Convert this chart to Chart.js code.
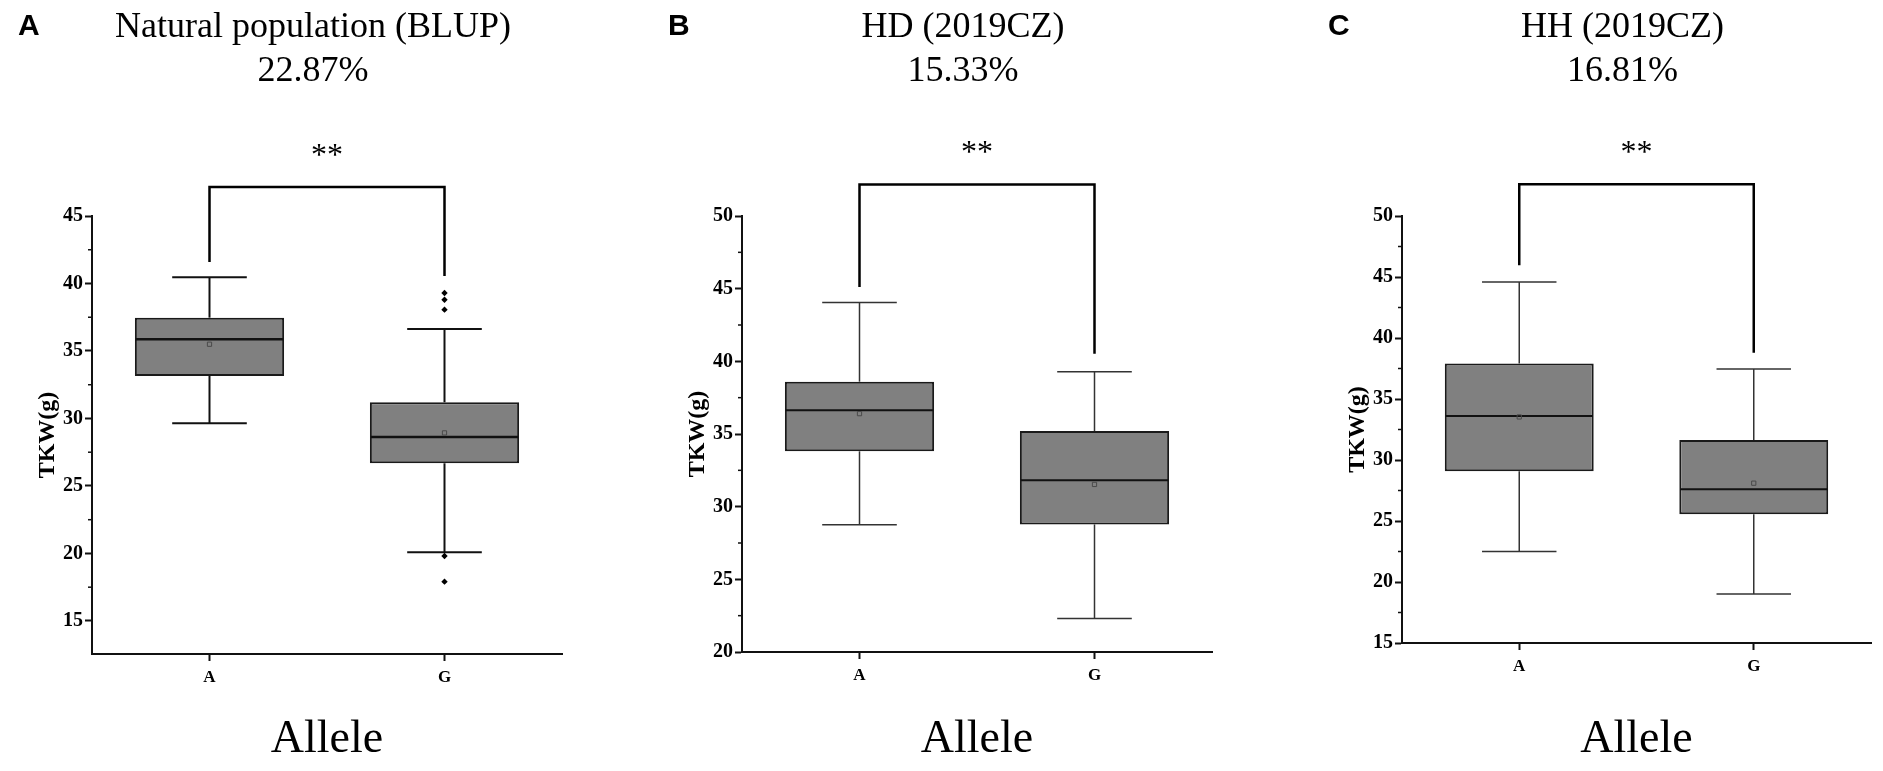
<!DOCTYPE html>
<html>
<head>
<meta charset="utf-8">
<script src="https://cdn.jsdelivr.net/npm/chart.js@4.4.1/dist/chart.umd.min.js"></script>
<style>
html, body { margin: 0; padding: 0; background: #fff; }
#wrap { position: relative; width: 1883px; height: 771px; overflow: hidden; }
canvas { position: absolute; top: 0; }
</style>
</head>
<body>
<div id="wrap">
  <canvas id="chartA" width="620" height="771" style="left:0px"></canvas>
  <canvas id="chartB" width="620" height="771" style="left:640px"></canvas>
  <canvas id="chartC" width="623" height="771" style="left:1260px"></canvas>
</div>
<script>
var alleles = ["A", "G"];

// A - natural population (BLUP)
var blupQ1 = [33.15, 26.68];
var blupQ3 = [37.47, 31.2];
var blupMedian = [35.87, 28.63];
var blupMean = [35.5, 28.93];
var blupLow = [29.64, 20.09];
var blupHigh = [40.46, 36.63];
var blupOutlierAllele = ["G", "G", "G", "G", "G"];
var blupOutlierValue = [39.3, 38.8, 38.06, 19.81, 17.91];
var blupBracket = [41.6, 47.15, 40.56]; // left foot, top, right foot

// B - HD (2019CZ)
var hdQ1 = [33.81, 28.78];
var hdQ3 = [38.6, 35.2];
var hdMedian = [36.63, 31.81];
var hdMean = [36.4, 31.53];
var hdLow = [28.76, 22.31];
var hdHigh = [44.04, 39.29];
var hdBracket = [45.11, 52.17, 40.53];

// C - HH (2019CZ)
var hhQ1 = [29.08, 25.56];
var hhQ3 = [37.92, 31.64];
var hhMedian = [33.61, 27.61];
var hhMean = [33.53, 28.1];
var hhLow = [22.5, 19.02];
var hhHigh = [44.6, 37.46];
var hhBracket = [45.97, 52.6, 38.79];

var serif = "'Liberation Serif', 'Times New Roman', serif";
var sans = "'Liberation Sans', Arial, sans-serif";

function line(ctx, x1, y1, x2, y2) {
    ctx.beginPath();
    ctx.moveTo(x1, y1);
    ctx.lineTo(x2, y2);
    ctx.stroke();
}

// whiskers + median, drawn right after the boxes
var boxParts = {
    id: "boxParts",
    afterDatasetDraw: function (chart, args) {
        if (args.index !== 0) return;
        var p = chart.options.plugins.boxParts;
        var ctx = chart.ctx;
        var ys = chart.scales.y;
        ctx.save();
        args.meta.data.forEach(function (bar, i) {
            var cx = bar.x, half = bar.width / 2;
            var yHi = ys.getPixelForValue(p.high[i]);
            var yLo = ys.getPixelForValue(p.low[i]);
            ctx.strokeStyle = p.whiskerColor;
            ctx.lineWidth = p.whiskerWidth;
            line(ctx, cx, ys.getPixelForValue(p.q3[i]), cx, yHi);
            line(ctx, cx, ys.getPixelForValue(p.q1[i]), cx, yLo);
            line(ctx, cx - half / 2, yHi, cx + half / 2, yHi);
            line(ctx, cx - half / 2, yLo, cx + half / 2, yLo);
            ctx.strokeStyle = "#111";
            ctx.lineWidth = p.medianWidth;
            var yMed = ys.getPixelForValue(p.median[i]);
            line(ctx, cx - half + 1, yMed, cx + half - 1, yMed);
        });
        ctx.restore();
    }
};

// titles, letter, bracket, stars, minor ticks
var decor = {
    id: "decor",
    afterDraw: function (chart) {
        var p = chart.options.plugins.decor;
        var ctx = chart.ctx;
        var area = chart.chartArea;
        var ys = chart.scales.y;
        var bars = chart.getDatasetMeta(p.boxIndex).data;
        ctx.save();

        // minor ticks
        ctx.strokeStyle = "#111";
        ctx.lineWidth = 1.5;
        for (var i = 0; i < ys.ticks.length - 1; i++) {
            var mid = (ys.ticks[i].value + ys.ticks[i + 1].value) / 2;
            var my = ys.getPixelForValue(mid);
            line(ctx, area.left - 4, my, area.left, my);
        }

        // panel letter
        ctx.fillStyle = "#000";
        ctx.textBaseline = "alphabetic";
        ctx.textAlign = "left";
        ctx.font = "bold 30px " + sans;
        ctx.fillText(p.letter, area.left - 74, 35);

        // title
        var tx = (area.left + area.right) / 2 - 14;
        ctx.textAlign = "center";
        ctx.font = "36px " + serif;
        ctx.fillText(p.title, tx, 37);
        ctx.fillText(p.percent, tx, 81);

        // significance bracket
        var xa = bars[0].x, xg = bars[1].x;
        ctx.strokeStyle = "#000";
        ctx.lineWidth = 2.5;
        ctx.lineJoin = "miter";
        ctx.beginPath();
        ctx.moveTo(xa, ys.getPixelForValue(p.bracket[0]));
        ctx.lineTo(xa, ys.getPixelForValue(p.bracket[1]));
        ctx.lineTo(xg, ys.getPixelForValue(p.bracket[1]));
        ctx.lineTo(xg, ys.getPixelForValue(p.bracket[2]));
        ctx.stroke();

        ctx.font = "32px " + serif;
        ctx.fillText("**", (xa + xg) / 2, ys.getPixelForValue(p.bracket[1]) - 22);
        ctx.restore();
    }
};

function makePanel(id, cfg) {
    var datasets = [{
        type: "bar",
        data: alleles.map(function (a, i) { return [cfg.q1[i], cfg.q3[i]]; }),
        backgroundColor: "#808080",
        borderColor: "#1a1a1a",
        borderWidth: 2,
        borderSkipped: false,
        barPercentage: 0.635,
        categoryPercentage: 1,
        order: 3
    }, {
        type: "line",
        data: cfg.mean,
        showLine: false,
        pointStyle: "rect",
        pointRadius: 3,
        pointBorderWidth: 1,
        pointBorderColor: "#4a4a4a",
        pointBackgroundColor: "rgba(0,0,0,0)",
        order: 1
    }];
    if (cfg.outAllele) {
        datasets.push({
            type: "line",
            data: cfg.outAllele.map(function (a, i) { return { x: a, y: cfg.outValue[i] }; }),
            showLine: false,
            pointStyle: "rectRot",
            pointRadius: 3.2,
            pointBorderWidth: 0,
            pointBackgroundColor: "#000",
            order: 1
        });
    }

    return new Chart(document.getElementById(id), {
        data: { labels: alleles, datasets: datasets },
        options: {
            responsive: false,
            animation: false,
            events: [],
            layout: { padding: { top: 216, left: cfg.padLeft, right: cfg.padRight, bottom: 0 } },
            plugins: {
                legend: { display: false },
                tooltip: { enabled: false },
                boxParts: {
                    q1: cfg.q1, q3: cfg.q3, median: cfg.median, low: cfg.low, high: cfg.high,
                    whiskerColor: cfg.whiskerColor, whiskerWidth: cfg.whiskerWidth, medianWidth: cfg.medianWidth
                },
                decor: {
                    boxIndex: 0, letter: cfg.letter, title: cfg.title, percent: cfg.percent,
                    bracket: cfg.bracket
                }
            },
            scales: {
                x: {
                    type: "category",
                    offset: true,
                    grid: { drawOnChartArea: false, offset: false, drawTicks: true, tickLength: 7, tickWidth: 2, tickColor: "#111" },
                    border: { color: "#111", width: 2 },
                    ticks: { color: "#000", padding: 6, font: { family: serif, weight: "bold", size: 17 } },
                    title: { display: true, text: "Allele", color: "#000", font: { family: serif, size: 46, lineHeight: 1 }, padding: { top: 0, bottom: 8 } },
                    afterFit: function (s) { s.height = 771 - cfg.bottom; }
                },
                y: {
                    type: "linear",
                    min: cfg.yMin,
                    max: cfg.yMax,
                    grid: { drawOnChartArea: false, drawTicks: true, tickLength: 7, tickWidth: 2, tickColor: "#111" },
                    border: { color: "#111", width: 2 },
                    ticks: { stepSize: 5, includeBounds: false, color: "#000", padding: 2, font: { family: serif, weight: "bold", size: 20 } },
                    title: { display: true, text: "TKW(g)", color: "#000", font: { family: serif, weight: "bold", size: 24, lineHeight: 1 }, padding: { top: 36, bottom: 0 } },
                    afterFit: function (s) { s.width = 92; }
                }
            }
        },
        plugins: [boxParts, decor]
    });
}

makePanel("chartA", {
    letter: "A", title: "Natural population (BLUP)", percent: "22.87%",
    q1: blupQ1, q3: blupQ3, median: blupMedian, mean: blupMean, low: blupLow, high: blupHigh,
    outAllele: blupOutlierAllele, outValue: blupOutlierValue, bracket: blupBracket,
    yMin: 12.55, yMax: 45, padLeft: 0, padRight: 58, bottom: 654,
    whiskerColor: "#111", whiskerWidth: 2, medianWidth: 2.5
});
makePanel("chartB", {
    letter: "B", title: "HD (2019CZ)", percent: "15.33%",
    q1: hdQ1, q3: hdQ3, median: hdMedian, mean: hdMean, low: hdLow, high: hdHigh,
    bracket: hdBracket,
    yMin: 20, yMax: 50, padLeft: 10, padRight: 48, bottom: 652,
    whiskerColor: "#333", whiskerWidth: 1.5, medianWidth: 2
});
makePanel("chartC", {
    letter: "C", title: "HH (2019CZ)", percent: "16.81%",
    q1: hhQ1, q3: hhQ3, median: hhMedian, mean: hhMean, low: hhLow, high: hhHigh,
    bracket: hhBracket,
    yMin: 15, yMax: 50, padLeft: 50, padRight: 12, bottom: 643,
    whiskerColor: "#333", whiskerWidth: 1.5, medianWidth: 2
});
</script>
</body>
</html>
